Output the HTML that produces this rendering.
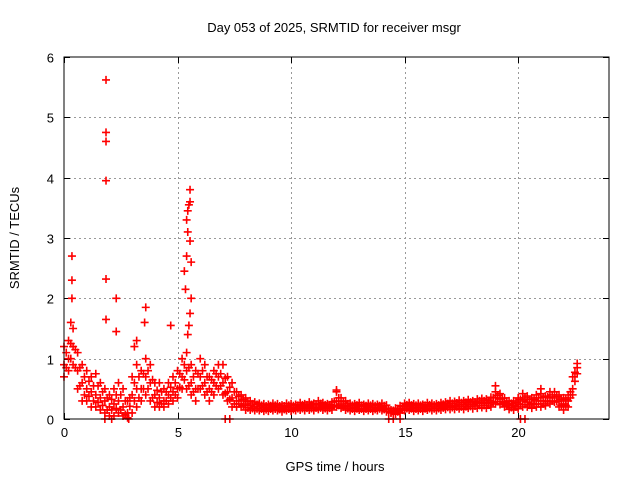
<!DOCTYPE html>
<html><head><meta charset="utf-8"><style>
body{margin:0;background:#fff;}
svg{display:block;font-family:"Liberation Sans",Arial,sans-serif;}
</style></head><body>
<svg id="chart" width="640" height="480" viewBox="0 0 640 480">
<text x="334" y="32" font-size="13" text-anchor="middle">Day 053 of 2025, SRMTID for receiver msgr</text>
<text transform="translate(19,238) rotate(-90)" font-size="13" text-anchor="middle">SRMTID / TECUs</text>
<text x="335" y="471" font-size="13" text-anchor="middle">GPS time / hours</text>
<g id="grid"></g>
<g id="ticks"></g>
<g id="marks"></g>
<rect x="64" y="57" width="545" height="362" fill="none" stroke="#000" stroke-width="1"/>
</svg>
<script>
const xTicks=[0,5,10,15,20];
const yTicks=[0,1,2,3,4,5,6];
const times=[0,0.2,0.4,0.6,0.8,1.0,1.2,1.4,1.6,1.8,2.0,2.2,2.4,2.6,2.8,3.0,3.2,3.4,3.6,3.8,4.0,4.2,4.4,4.6,4.8,5.0,5.2,5.4,5.6,5.8,6.0,6.2,6.4,6.6,6.8,7.0,7.2,7.4,7.6,7.8,8.0,8.2,8.4,
8.6,8.8,9.0,9.2,9.4,9.6,9.8,10.0,10.2,10.4,10.6,10.8,11.0,11.2,11.4,11.6,11.8,12.0,12.2,12.4,
12.6,12.8,13.0,13.2,13.4,13.6,13.8,14.0,14.2,14.4,14.6,14.8,15.0,15.2,15.4,15.6,15.8,16.0,16.2,16.4,16.6,16.8,
17.0,17.2,17.4,17.6,17.8,18.0,18.2,18.4,18.6,18.8,19.0,19.2,19.4,19.6,19.8,20.0,20.2,20.4,20.6,20.8,21.0,21.2,21.4,21.6,21.8,22.0,22.2,22.4,22.6];
const highVals=[1.2,1.3,1.5,1.1,0.9,0.8,0.7,0.75,0.6,0.5,0.4,0.5,0.6,0.5,0.3,0.7,0.9,0.8,1.0,0.9,0.6,0.6,0.5,0.6,0.7,0.8,1.0,1.1,0.9,0.8,1.0,0.9,0.7,0.8,0.9,0.9,0.7,0.6,0.45,0.4,0.35,0.3,0.28,
0.26,0.25,0.24,0.26,0.25,0.23,0.26,0.25,0.24,0.27,0.25,0.28,0.26,0.3,0.27,0.25,0.28,0.45,0.35,0.3,
0.26,0.25,0.27,0.24,0.26,0.25,0.24,0.26,0.23,0.15,0.18,0.22,0.26,0.27,0.25,0.26,0.24,0.27,0.26,0.25,0.27,0.28,
0.3,0.29,0.31,0.3,0.32,0.3,0.33,0.34,0.33,0.36,0.45,0.42,0.35,0.3,0.3,0.35,0.42,0.38,0.35,0.4,0.42,0.38,0.45,0.45,0.4,0.35,0.4,0.7,0.92];
const midVals=[0.9,1.0,1.2,0.8,0.6,0.5,0.45,0.4,0.35,0.3,0.2,0.25,0.3,0.2,0.1,0.4,0.5,0.5,0.7,0.6,0.4,0.35,0.3,0.4,0.45,0.5,0.7,0.8,0.6,0.5,0.7,0.6,0.5,0.6,0.7,0.6,0.45,0.35,0.3,0.3,0.25,0.22,0.2,
0.2,0.19,0.18,0.2,0.19,0.18,0.2,0.19,0.19,0.21,0.2,0.22,0.2,0.23,0.21,0.2,0.22,0.3,0.25,0.22,
0.2,0.19,0.21,0.18,0.2,0.19,0.19,0.2,0.18,0.12,0.13,0.16,0.2,0.21,0.19,0.2,0.19,0.21,0.2,0.2,0.21,0.22,
0.23,0.22,0.24,0.23,0.25,0.24,0.26,0.27,0.26,0.28,0.35,0.33,0.27,0.24,0.22,0.25,0.3,0.28,0.26,0.3,0.3,0.3,0.35,0.35,0.3,0.25,0.3,0.5,0.85];
const lowVals=[0.7,0.8,0.9,0.5,0.3,0.3,0.2,0.2,0.15,0.1,0.05,0.05,0.1,0.05,0.02,0.1,0.2,0.3,0.4,0.3,0.2,0.2,0.2,0.25,0.3,0.35,0.5,0.5,0.4,0.3,0.5,0.4,0.3,0.4,0.5,0.4,0.3,0.2,0.2,0.2,0.15,0.15,0.14,
0.14,0.13,0.13,0.14,0.14,0.12,0.14,0.13,0.14,0.15,0.14,0.15,0.14,0.16,0.15,0.14,0.15,0.2,0.18,0.15,
0.14,0.13,0.15,0.13,0.14,0.13,0.14,0.14,0.12,0.1,0.08,0.1,0.14,0.15,0.13,0.14,0.13,0.15,0.14,0.14,0.15,0.16,
0.16,0.16,0.17,0.16,0.18,0.17,0.18,0.19,0.18,0.2,0.25,0.24,0.2,0.16,0.15,0.17,0.2,0.2,0.18,0.2,0.2,0.22,0.25,0.28,0.2,0.15,0.2,0.4,0.75];
const spikeTimes=[0.35,0.35,0.35,0.3,1.85,1.85,1.85,1.85,1.85,1.85,2.3,2.3,3.6,3.55,4.7,5.35,5.3,5.4,5.45,5.4,5.45,5.5,5.55,5.55,5.55,5.6,5.6,5.55,5.5,5.45,3.2,3.1,12.0,19.0,21.0,
1.8,2.1,2.85,7.1,7.3,14.3,14.5,14.8,20.1,20.3];
const spikeVals=[2.7,2.3,2.0,1.6,5.62,4.75,4.6,3.95,2.32,1.65,2.0,1.45,1.85,1.6,1.55,2.15,2.45,2.7,3.1,3.3,3.45,3.55,3.6,3.8,2.95,2.6,2.0,1.75,1.55,1.4,1.3,1.2,0.48,0.55,0.5,
0,0,0,0,0,0,0,0,0,0];
const X0=64,X1=609,Y0=419,Y1=57,XMAX=24,YMAX=6;
function xs(t){return X0+(X1-X0)*t/XMAX;}
function ys(v){return Y0-(Y0-Y1)*v/YMAX;}
const NS="http://www.w3.org/2000/svg";
const grid=document.getElementById('grid'),ticks=document.getElementById('ticks'),marks=document.getElementById('marks');
function ln(g,x1,y1,x2,y2,st,dash){const l=document.createElementNS(NS,'line');l.setAttribute('x1',x1);l.setAttribute('y1',y1);l.setAttribute('x2',x2);l.setAttribute('y2',y2);l.setAttribute('stroke',st);l.setAttribute('stroke-width',1);if(dash)l.setAttribute('stroke-dasharray',dash);g.appendChild(l);return l;}
function tx(g,x,y,s,anchor){const t=document.createElementNS(NS,'text');t.setAttribute('x',x);t.setAttribute('y',y);t.setAttribute('font-size','13');t.setAttribute('text-anchor',anchor);t.textContent=s;g.appendChild(t);return t;}
xTicks.forEach(v=>{const x=Math.round(xs(v))+0.5;
 if(v>0){const g=ln(grid,x,Y1,x,Y0,'#999','2,3');}
 ln(ticks,x,Y0,x,Y0-6,'#000');ln(ticks,x,Y1,x,Y1+6,'#000');
 const t=tx(ticks,x,437,String(v),'middle');
 
 
});
yTicks.forEach(v=>{const y=Math.round(ys(v))+0.5;
 if(v>0&&v<6){const g=ln(grid,X0,y,X1,y,'#999','2,3');}
 ln(ticks,X0,y,X0+6,y,'#000');ln(ticks,X1,y,X1-6,y,'#000');
 const t=tx(ticks,54,y+5,String(v),'end');
 
 
});
function cross(t,v){const x=xs(t),y=ys(v);const p=document.createElementNS(NS,'path');
 p.setAttribute('d',`M${x-4} ${y}H${x+4}M${x} ${y-4}V${y+4}`);
 p.setAttribute('stroke','#f00');p.setAttribute('stroke-width','1.6');p.setAttribute('fill','none');
 
 
 marks.appendChild(p);}
times.forEach((t,i)=>{cross(t,highVals[i]);cross(t,midVals[i]);cross(t,lowVals[i]);
 if(i<times.length-1){const tm=(t+times[i+1])/2;cross(tm,(highVals[i]+midVals[i+1])/2);cross(tm,(lowVals[i]+midVals[i+1])/2);}});
spikeTimes.forEach((t,i)=>cross(t,spikeVals[i]));
</script>
</body></html>
